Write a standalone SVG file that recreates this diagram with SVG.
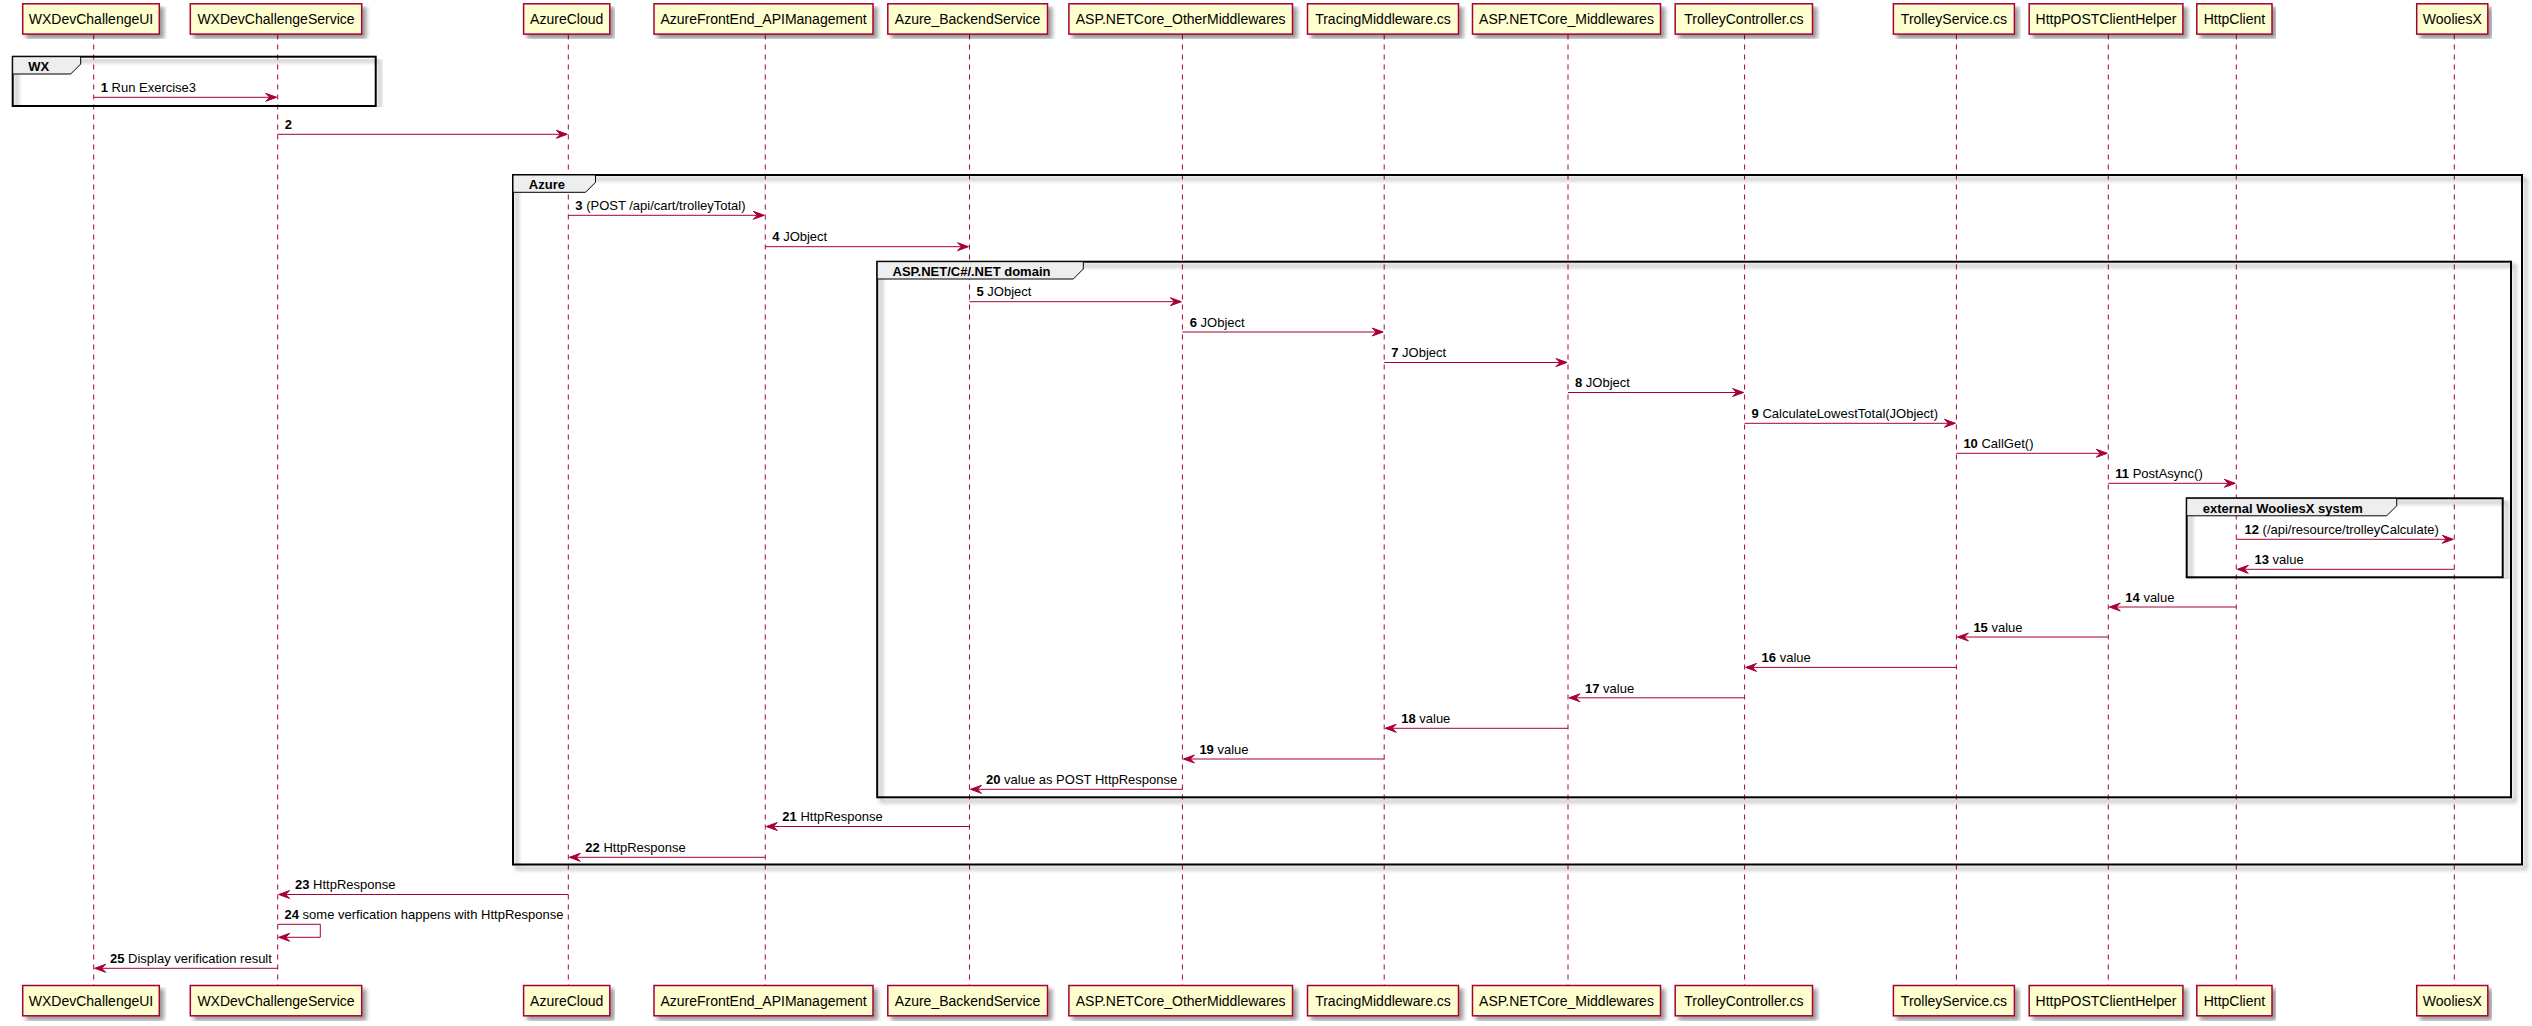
<svg xmlns="http://www.w3.org/2000/svg" width="2532" height="1026" viewBox="0 0 2532 1026">
<defs>
<filter id="sh" x="-5%" y="-5%" width="110%" height="120%">
<feGaussianBlur in="SourceAlpha" stdDeviation="2" result="b"/>
<feColorMatrix in="b" type="matrix" values="0 0 0 0 0 0 0 0 0 0 0 0 0 0 0 0 0 0 0.4 0" result="c"/>
<feOffset in="c" dx="4" dy="4" result="o"/>
<feMerge><feMergeNode in="o"/><feMergeNode in="SourceGraphic"/></feMerge>
</filter>
<filter id="shf" x="-2%" y="-2%" width="104%" height="104%">
<feGaussianBlur in="SourceAlpha" stdDeviation="2" result="b"/>
<feColorMatrix in="b" type="matrix" values="0 0 0 0 0 0 0 0 0 0 0 0 0 0 0 0 0 0 0.4 0" result="c"/>
<feOffset in="c" dx="4" dy="4" result="o"/>
<feMerge><feMergeNode in="o"/><feMergeNode in="SourceGraphic"/></feMerge>
</filter>
</defs>
<style>
text{font-family:"Liberation Sans",Arial,sans-serif;fill:#000}
.pbox{fill:#FEFECE;stroke:#A80036;stroke-width:1.5;filter:url(#sh)}
.pt{font-size:14px;text-anchor:middle}
.life{stroke:#A80036;stroke-width:1;stroke-dasharray:5,5}
.frame{fill:none;stroke:#000;stroke-width:2;filter:url(#shf)}
.tab{fill:#EEEEEE;stroke:#000;stroke-width:1}
.ft{font-size:13px;font-weight:bold}
.msg{stroke:#A80036;stroke-width:1;fill:none}
.ah{fill:#A80036;stroke:#A80036;stroke-width:1}
.ml{font-size:13px}
.n{font-weight:bold}
</style>
<rect x="0" y="0" width="2532" height="1026" fill="#FFFFFF"/>

<g id="lifelines">
<line class="life" x1="93.7" y1="34.5" x2="93.7" y2="985"/>
<line class="life" x1="277.7" y1="34.5" x2="277.7" y2="985"/>
<line class="life" x1="568.3" y1="34.5" x2="568.3" y2="985"/>
<line class="life" x1="765.3" y1="34.5" x2="765.3" y2="985"/>
<line class="life" x1="969.5" y1="34.5" x2="969.5" y2="985"/>
<line class="life" x1="1182.4" y1="34.5" x2="1182.4" y2="985"/>
<line class="life" x1="1384.2" y1="34.5" x2="1384.2" y2="985"/>
<line class="life" x1="1568" y1="34.5" x2="1568" y2="985"/>
<line class="life" x1="1744.6" y1="34.5" x2="1744.6" y2="985"/>
<line class="life" x1="1956.4" y1="34.5" x2="1956.4" y2="985"/>
<line class="life" x1="2108.3" y1="34.5" x2="2108.3" y2="985"/>
<line class="life" x1="2236.3" y1="34.5" x2="2236.3" y2="985"/>
<line class="life" x1="2454.3" y1="34.5" x2="2454.3" y2="985"/>
</g>

<g id="frames">
<g id="frame-wx">
<rect class="frame" x="12.7" y="56.7" width="363" height="49.3"/>
<path class="tab" d="M12.7,56.7 H80.7 V64 L70.7,74 H12.7 Z"/>
<text class="ft" x="28.3" y="70.5">WX</text>
</g>
<g id="frame-azure">
<rect class="frame" x="513" y="175" width="2009" height="689.5"/>
<path class="tab" d="M513,175 H595.5 V182.3 L585.5,192.3 H513 Z"/>
<text class="ft" x="528.8" y="189">Azure</text>
</g>
<g id="frame-aspnet">
<rect class="frame" x="877.2" y="261.7" width="1633.8" height="535.6"/>
<path class="tab" d="M877.2,261.7 H1083.3 V269 L1073.3,279 H877.2 Z"/>
<text class="ft" x="892.5" y="275.7">ASP.NET/C#/.NET domain</text>
</g>
<g id="frame-external">
<rect class="frame" x="2186.7" y="498.3" width="316" height="79"/>
<path class="tab" d="M2186.7,498.3 H2396.7 V505.8 L2386.7,515.8 H2186.7 Z"/>
<text class="ft" x="2202.7" y="512.7">external WooliesX system</text>
</g>
</g>

<g id="p-WXDevChallengeUI">
<rect class="pbox" x="22.7" y="3.8" width="136.6" height="30.3"/>
<text class="pt" x="91" y="24">WXDevChallengeUI</text>
<rect class="pbox" x="22.7" y="985.5" width="136.6" height="30.3"/>
<text class="pt" x="91" y="1005.7">WXDevChallengeUI</text>
</g>
<g id="p-WXDevChallengeService">
<rect class="pbox" x="190.3" y="3.8" width="171.4" height="30.3"/>
<text class="pt" x="276" y="24">WXDevChallengeService</text>
<rect class="pbox" x="190.3" y="985.5" width="171.4" height="30.3"/>
<text class="pt" x="276" y="1005.7">WXDevChallengeService</text>
</g>
<g id="p-AzureCloud">
<rect class="pbox" x="523.6" y="3.8" width="86.2" height="30.3"/>
<text class="pt" x="566.7" y="24">AzureCloud</text>
<rect class="pbox" x="523.6" y="985.5" width="86.2" height="30.3"/>
<text class="pt" x="566.7" y="1005.7">AzureCloud</text>
</g>
<g id="p-AzureFrontEnd_APIManagement">
<rect class="pbox" x="654" y="3.8" width="219" height="30.3"/>
<text class="pt" x="763.5" y="24">AzureFrontEnd_APIManagement</text>
<rect class="pbox" x="654" y="985.5" width="219" height="30.3"/>
<text class="pt" x="763.5" y="1005.7">AzureFrontEnd_APIManagement</text>
</g>
<g id="p-Azure_BackendService">
<rect class="pbox" x="887.8" y="3.8" width="159.7" height="30.3"/>
<text class="pt" x="967.6" y="24">Azure_BackendService</text>
<rect class="pbox" x="887.8" y="985.5" width="159.7" height="30.3"/>
<text class="pt" x="967.6" y="1005.7">Azure_BackendService</text>
</g>
<g id="p-ASP.NETCore_OtherMiddlewares">
<rect class="pbox" x="1068.9" y="3.8" width="223.6" height="30.3"/>
<text class="pt" x="1180.7" y="24">ASP.NETCore_OtherMiddlewares</text>
<rect class="pbox" x="1068.9" y="985.5" width="223.6" height="30.3"/>
<text class="pt" x="1180.7" y="1005.7">ASP.NETCore_OtherMiddlewares</text>
</g>
<g id="p-TracingMiddleware.cs">
<rect class="pbox" x="1307.5" y="3.8" width="151" height="30.3"/>
<text class="pt" x="1383" y="24">TracingMiddleware.cs</text>
<rect class="pbox" x="1307.5" y="985.5" width="151" height="30.3"/>
<text class="pt" x="1383" y="1005.7">TracingMiddleware.cs</text>
</g>
<g id="p-ASP.NETCore_Middlewares">
<rect class="pbox" x="1472.5" y="3.8" width="188" height="30.3"/>
<text class="pt" x="1566.5" y="24">ASP.NETCore_Middlewares</text>
<rect class="pbox" x="1472.5" y="985.5" width="188" height="30.3"/>
<text class="pt" x="1566.5" y="1005.7">ASP.NETCore_Middlewares</text>
</g>
<g id="p-TrolleyController.cs">
<rect class="pbox" x="1675.2" y="3.8" width="137.3" height="30.3"/>
<text class="pt" x="1743.9" y="24">TrolleyController.cs</text>
<rect class="pbox" x="1675.2" y="985.5" width="137.3" height="30.3"/>
<text class="pt" x="1743.9" y="1005.7">TrolleyController.cs</text>
</g>
<g id="p-TrolleyService.cs">
<rect class="pbox" x="1893.4" y="3.8" width="121" height="30.3"/>
<text class="pt" x="1953.9" y="24">TrolleyService.cs</text>
<rect class="pbox" x="1893.4" y="985.5" width="121" height="30.3"/>
<text class="pt" x="1953.9" y="1005.7">TrolleyService.cs</text>
</g>
<g id="p-HttpPOSTClientHelper">
<rect class="pbox" x="2029.2" y="3.8" width="153.7" height="30.3"/>
<text class="pt" x="2106" y="24">HttpPOSTClientHelper</text>
<rect class="pbox" x="2029.2" y="985.5" width="153.7" height="30.3"/>
<text class="pt" x="2106" y="1005.7">HttpPOSTClientHelper</text>
</g>
<g id="p-HttpClient">
<rect class="pbox" x="2196.8" y="3.8" width="75.2" height="30.3"/>
<text class="pt" x="2234.4" y="24">HttpClient</text>
<rect class="pbox" x="2196.8" y="985.5" width="75.2" height="30.3"/>
<text class="pt" x="2234.4" y="1005.7">HttpClient</text>
</g>
<g id="p-WooliesX">
<rect class="pbox" x="2416.7" y="3.8" width="71.1" height="30.3"/>
<text class="pt" x="2452.3" y="24">WooliesX</text>
<rect class="pbox" x="2416.7" y="985.5" width="71.1" height="30.3"/>
<text class="pt" x="2452.3" y="1005.7">WooliesX</text>
</g>

<g id="connectors">
<!-- 1 -->
<line class="msg" x1="93.7" y1="97.3" x2="275.7" y2="97.3"/>
<polygon class="ah" points="265.7,93.3 276.7,97.3 265.7,101.3 269.7,97.3"/>
<text class="ml" x="100.7" y="92"><tspan class="n">1</tspan> Run Exercise3</text>
<!-- 2 -->
<line class="msg" x1="277.7" y1="134.3" x2="566.3" y2="134.3"/>
<polygon class="ah" points="556.3,130.3 567.3,134.3 556.3,138.3 560.3,134.3"/>
<text class="ml" x="284.7" y="129"><tspan class="n">2</tspan></text>
<!-- 3 -->
<line class="msg" x1="568.3" y1="215.3" x2="763.3" y2="215.3"/>
<polygon class="ah" points="753.3,211.3 764.3,215.3 753.3,219.3 757.3,215.3"/>
<text class="ml" x="575.3" y="210"><tspan class="n">3</tspan> (POST /api/cart/trolleyTotal)</text>
<!-- 4 -->
<line class="msg" x1="765.3" y1="246.7" x2="967.5" y2="246.7"/>
<polygon class="ah" points="957.5,242.7 968.5,246.7 957.5,250.7 961.5,246.7"/>
<text class="ml" x="772.3" y="241.4"><tspan class="n">4</tspan> JObject</text>
<!-- 5 -->
<line class="msg" x1="969.5" y1="301.7" x2="1180.4" y2="301.7"/>
<polygon class="ah" points="1170.4,297.7 1181.4,301.7 1170.4,305.7 1174.4,301.7"/>
<text class="ml" x="976.5" y="296.4"><tspan class="n">5</tspan> JObject</text>
<!-- 6 -->
<line class="msg" x1="1182.4" y1="332" x2="1382.2" y2="332"/>
<polygon class="ah" points="1372.2,328 1383.2,332 1372.2,336 1376.2,332"/>
<text class="ml" x="1189.7" y="326.7"><tspan class="n">6</tspan> JObject</text>
<!-- 7 -->
<line class="msg" x1="1384.2" y1="362.5" x2="1566" y2="362.5"/>
<polygon class="ah" points="1556,358.5 1567,362.5 1556,366.5 1560,362.5"/>
<text class="ml" x="1391.2" y="357.2"><tspan class="n">7</tspan> JObject</text>
<!-- 8 -->
<line class="msg" x1="1568" y1="392.5" x2="1742.6" y2="392.5"/>
<polygon class="ah" points="1732.6,388.5 1743.6,392.5 1732.6,396.5 1736.6,392.5"/>
<text class="ml" x="1575" y="387.2"><tspan class="n">8</tspan> JObject</text>
<!-- 9 -->
<line class="msg" x1="1744.6" y1="423.3" x2="1954.4" y2="423.3"/>
<polygon class="ah" points="1944.4,419.3 1955.4,423.3 1944.4,427.3 1948.4,423.3"/>
<text class="ml" x="1751.6" y="418"><tspan class="n">9</tspan> CalculateLowestTotal(JObject)</text>
<!-- 10 -->
<line class="msg" x1="1956.4" y1="453.3" x2="2106.3" y2="453.3"/>
<polygon class="ah" points="2096.3,449.3 2107.3,453.3 2096.3,457.3 2100.3,453.3"/>
<text class="ml" x="1963.4" y="448"><tspan class="n">10</tspan> CallGet()</text>
<!-- 11 -->
<line class="msg" x1="2108.3" y1="483.3" x2="2234.3" y2="483.3"/>
<polygon class="ah" points="2224.3,479.3 2235.3,483.3 2224.3,487.3 2228.3,483.3"/>
<text class="ml" x="2115.3" y="478"><tspan class="n">11</tspan> PostAsync()</text>
<!-- 12 -->
<line class="msg" x1="2236.3" y1="539.3" x2="2452.3" y2="539.3"/>
<polygon class="ah" points="2442.3,535.3 2453.3,539.3 2442.3,543.3 2446.3,539.3"/>
<text class="ml" x="2244.5" y="534"><tspan class="n">12</tspan> (/api/resource/trolleyCalculate)</text>
<!-- 13 -->
<line class="msg" x1="2454.3" y1="569.3" x2="2238.3" y2="569.3"/>
<polygon class="ah" points="2248.3,565.3 2237.3,569.3 2248.3,573.3 2244.3,569.3"/>
<text class="ml" x="2254.5" y="564"><tspan class="n">13</tspan> value</text>
<!-- 14 -->
<line class="msg" x1="2236.3" y1="607" x2="2110.3" y2="607"/>
<polygon class="ah" points="2120.3,603 2109.3,607 2120.3,611 2116.3,607"/>
<text class="ml" x="2125.3" y="601.7"><tspan class="n">14</tspan> value</text>
<!-- 15 -->
<line class="msg" x1="2108.3" y1="637" x2="1958.4" y2="637"/>
<polygon class="ah" points="1968.4,633 1957.4,637 1968.4,641 1964.4,637"/>
<text class="ml" x="1973.4" y="631.7"><tspan class="n">15</tspan> value</text>
<!-- 16 -->
<line class="msg" x1="1956.4" y1="667.4" x2="1746.6" y2="667.4"/>
<polygon class="ah" points="1756.6,663.4 1745.6,667.4 1756.6,671.4 1752.6,667.4"/>
<text class="ml" x="1761.6" y="662.1"><tspan class="n">16</tspan> value</text>
<!-- 17 -->
<line class="msg" x1="1744.6" y1="697.8" x2="1570" y2="697.8"/>
<polygon class="ah" points="1580,693.8 1569,697.8 1580,701.8 1576,697.8"/>
<text class="ml" x="1585" y="692.5"><tspan class="n">17</tspan> value</text>
<!-- 18 -->
<line class="msg" x1="1568" y1="728.3" x2="1386.2" y2="728.3"/>
<polygon class="ah" points="1396.2,724.3 1385.2,728.3 1396.2,732.3 1392.2,728.3"/>
<text class="ml" x="1401.2" y="723"><tspan class="n">18</tspan> value</text>
<!-- 19 -->
<line class="msg" x1="1384.2" y1="759" x2="1184.4" y2="759"/>
<polygon class="ah" points="1194.4,755 1183.4,759 1194.4,763 1190.4,759"/>
<text class="ml" x="1199.4" y="753.7"><tspan class="n">19</tspan> value</text>
<!-- 20 -->
<line class="msg" x1="1182.4" y1="789.3" x2="971.5" y2="789.3"/>
<polygon class="ah" points="981.5,785.3 970.5,789.3 981.5,793.3 977.5,789.3"/>
<text class="ml" x="986" y="784"><tspan class="n">20</tspan> value as POST HttpResponse</text>
<!-- 21 -->
<line class="msg" x1="969.5" y1="826.5" x2="767.3" y2="826.5"/>
<polygon class="ah" points="777.3,822.5 766.3,826.5 777.3,830.5 773.3,826.5"/>
<text class="ml" x="782.3" y="821.2"><tspan class="n">21</tspan> HttpResponse</text>
<!-- 22 -->
<line class="msg" x1="765.3" y1="857.3" x2="570.3" y2="857.3"/>
<polygon class="ah" points="580.3,853.3 569.3,857.3 580.3,861.3 576.3,857.3"/>
<text class="ml" x="585.3" y="852"><tspan class="n">22</tspan> HttpResponse</text>
<!-- 23 -->
<line class="msg" x1="568.3" y1="894.5" x2="279.7" y2="894.5"/>
<polygon class="ah" points="289.7,890.5 278.7,894.5 289.7,898.5 285.7,894.5"/>
<text class="ml" x="295" y="889.2"><tspan class="n">23</tspan> HttpResponse</text>
<!-- 24 self -->
<path class="msg" d="M277.7,924.3 H320.3 V937.3 H279.7"/>
<polygon class="ah" points="289.7,933.3 278.7,937.3 289.7,941.3 285.7,937.3"/>
<text class="ml" x="284.5" y="919"><tspan class="n">24</tspan> some verfication happens with HttpResponse</text>
<!-- 25 -->
<line class="msg" x1="277.7" y1="968.3" x2="95.7" y2="968.3"/>
<polygon class="ah" points="105.7,964.3 94.7,968.3 105.7,972.3 101.7,968.3"/>
<text class="ml" x="110" y="963"><tspan class="n">25</tspan> Display verification result</text>
</g>
</svg>
